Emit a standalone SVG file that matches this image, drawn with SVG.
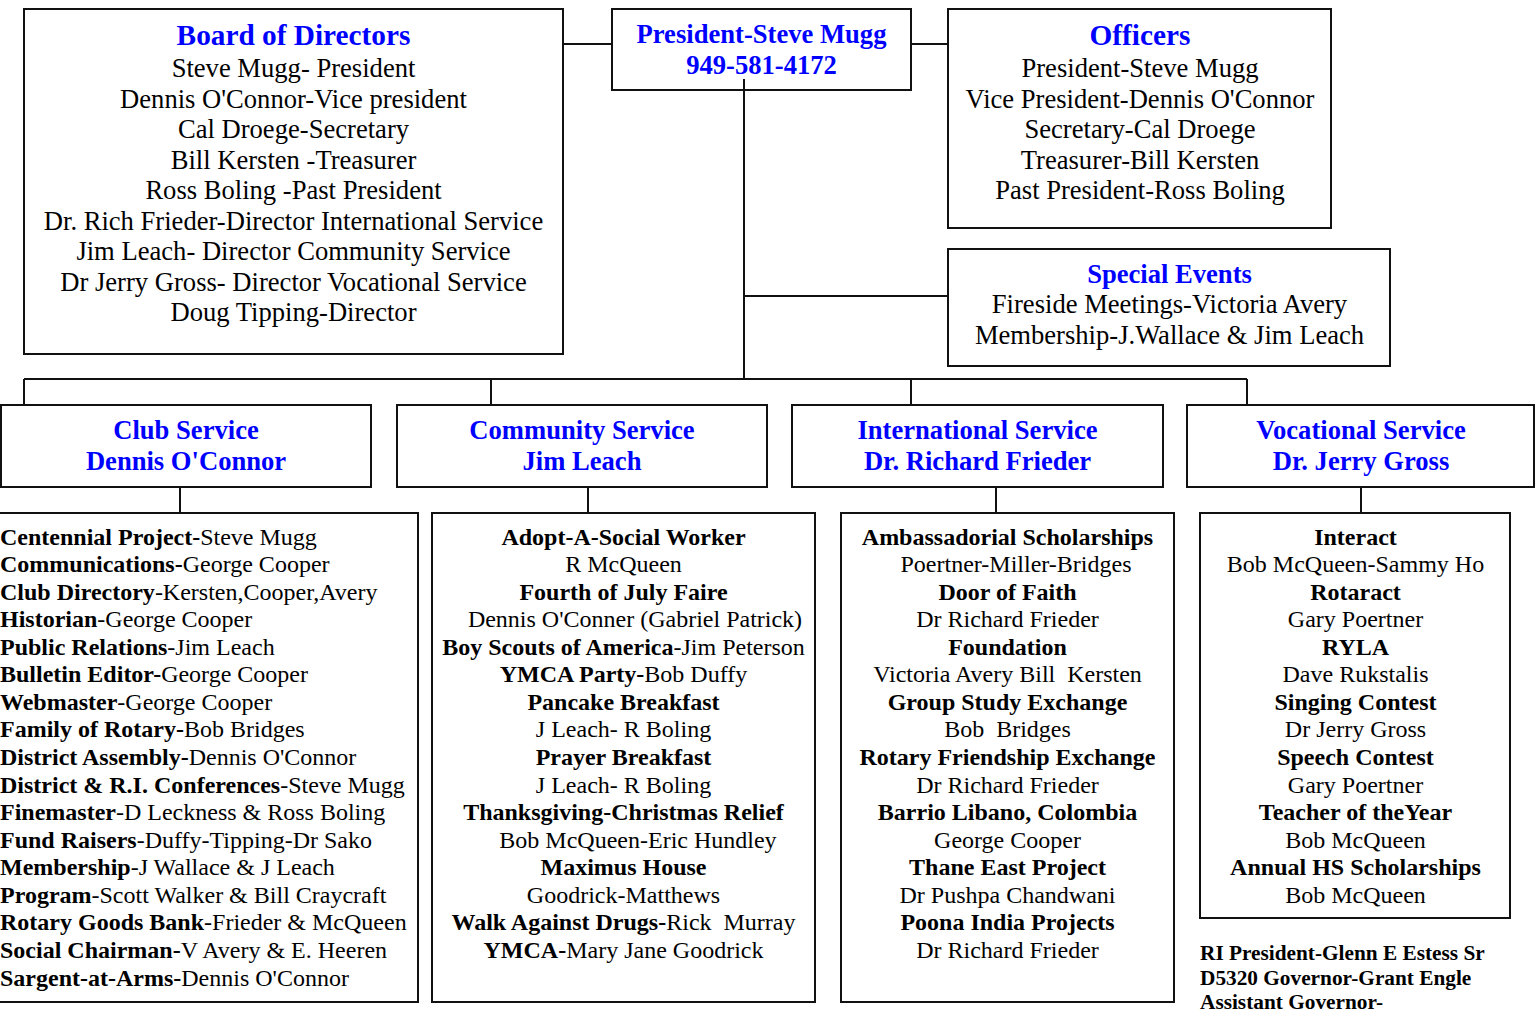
<svg xmlns="http://www.w3.org/2000/svg" width="1535" height="1015" viewBox="0 0 1535 1015">
<style>
rect.b{fill:#fff;stroke:#111;stroke-width:2}
.c line{stroke:#111;stroke-width:2}
text{font-family:"Liberation Serif","Times New Roman",serif;fill:#000;white-space:pre}
.h{font-weight:bold;fill:#0000ff;font-size:26.6px;text-anchor:middle}
.hl{font-weight:bold;fill:#0000ff;font-size:29.3px;text-anchor:middle}
.t{font-size:26.6px;text-anchor:middle}
.l{font-size:24px}
.m{font-size:24px;text-anchor:middle}
.f{font-size:21.3px;font-weight:bold}
.bd{font-weight:bold}
</style>
<rect width="1535" height="1015" fill="#fff"/>
<g id="connectors" class="c">
<line x1="563" y1="44" x2="612" y2="44"/>
<line x1="911" y1="44" x2="948" y2="44"/>
<line x1="744" y1="79" x2="744" y2="379"/>
<line x1="744" y1="296" x2="948" y2="296"/>
<line x1="24" y1="379" x2="1247" y2="379"/>
<line x1="24" y1="379" x2="24" y2="405"/>
<line x1="491" y1="379" x2="491" y2="405"/>
<line x1="911" y1="379" x2="911" y2="405"/>
<line x1="1247" y1="379" x2="1247" y2="405"/>
<line x1="180" y1="487" x2="180" y2="513"/>
<line x1="588" y1="487" x2="588" y2="513"/>
<line x1="996" y1="487" x2="996" y2="513"/>
<line x1="1361" y1="487" x2="1361" y2="513"/>
</g>
<g id="board">
<rect class="b" x="24" y="9" width="539" height="345"/>
<text class="hl" x="293.5" y="45">Board of Directors</text>
<text class="t" x="293.5" y="77">Steve Mugg- President</text>
<text class="t" x="293.5" y="107.5">Dennis O'Connor-Vice president</text>
<text class="t" x="293.5" y="138">Cal Droege-Secretary</text>
<text class="t" x="293.5" y="168.5">Bill Kersten -Treasurer</text>
<text class="t" x="293.5" y="199">Ross Boling -Past President</text>
<text class="t" x="293.5" y="229.5">Dr. Rich Frieder-Director International Service</text>
<text class="t" x="293.5" y="260">Jim Leach- Director Community Service</text>
<text class="t" x="293.5" y="290.5">Dr Jerry Gross- Director Vocational Service</text>
<text class="t" x="293.5" y="321">Doug Tipping-Director</text>
</g>
<g id="president">
<rect class="b" x="612" y="9" width="299" height="81"/>
<text class="h" x="761.5" y="43">President-Steve Mugg</text>
<text class="h" x="761.5" y="74">949-581-4172</text>
</g>
<line x1="744" y1="79" x2="744" y2="91" stroke="#111" stroke-width="2"/>
<g id="officers">
<rect class="b" x="948" y="9" width="383" height="219"/>
<text class="hl" x="1140" y="45">Officers</text>
<text class="t" x="1140" y="77">President-Steve Mugg</text>
<text class="t" x="1140" y="107.5">Vice President-Dennis O'Connor</text>
<text class="t" x="1140" y="138">Secretary-Cal Droege</text>
<text class="t" x="1140" y="168.5">Treasurer-Bill Kersten</text>
<text class="t" x="1140" y="199">Past President-Ross Boling</text>
</g>
<g id="special-events">
<rect class="b" x="948" y="249" width="442" height="117"/>
<text class="h" x="1169.5" y="283">Special Events</text>
<text class="t" x="1169.5" y="313">Fireside Meetings-Victoria Avery</text>
<text class="t" x="1169.5" y="343.5">Membership-J.Wallace &amp; Jim Leach</text>
</g>
<g id="club-service">
<rect class="b" x="1" y="405" width="370" height="82"/>
<text class="h" x="186" y="439">Club Service</text>
<text class="h" x="186" y="469.5">Dennis O'Connor</text>
</g>
<g id="community-service">
<rect class="b" x="397" y="405" width="370" height="82"/>
<text class="h" x="582" y="439">Community Service</text>
<text class="h" x="582" y="469.5">Jim Leach</text>
</g>
<g id="international-service">
<rect class="b" x="792" y="405" width="371" height="82"/>
<text class="h" x="977.5" y="439">International Service</text>
<text class="h" x="977.5" y="469.5">Dr. Richard Frieder</text>
</g>
<g id="vocational-service">
<rect class="b" x="1187" y="405" width="347" height="82"/>
<text class="h" x="1361" y="439">Vocational Service</text>
<text class="h" x="1361" y="469.5">Dr. Jerry Gross</text>
</g>
<g id="club-list">
<rect class="b" x="-3" y="513" width="421" height="489"/>
<text class="l" x="0" y="544.5"><tspan class="bd">Centennial Project-</tspan>Steve Mugg</text>
<text class="l" x="0" y="572.1"><tspan class="bd">Communications-</tspan>George Cooper</text>
<text class="l" x="0" y="599.6"><tspan class="bd">Club Directory</tspan>-Kersten,Cooper,Avery</text>
<text class="l" x="0" y="627.2"><tspan class="bd">Historian</tspan>-George Cooper</text>
<text class="l" x="0" y="654.7"><tspan class="bd">Public Relations</tspan>-Jim Leach</text>
<text class="l" x="0" y="682.3"><tspan class="bd">Bulletin Editor-</tspan>George Cooper</text>
<text class="l" x="0" y="709.9"><tspan class="bd">Webmaster</tspan>-George Cooper</text>
<text class="l" x="0" y="737.4"><tspan class="bd">Family of Rotary-</tspan>Bob Bridges</text>
<text class="l" x="0" y="765"><tspan class="bd">District Assembly-</tspan>Dennis O'Connor</text>
<text class="l" x="0" y="792.5"><tspan class="bd">District &amp; R.I. Conferences</tspan>-Steve Mugg</text>
<text class="l" x="0" y="820.1"><tspan class="bd">Finemaster</tspan>-D Leckness &amp; Ross Boling</text>
<text class="l" x="0" y="847.7"><tspan class="bd">Fund Raisers</tspan>-Duffy-Tipping-Dr Sako</text>
<text class="l" x="0" y="875.2"><tspan class="bd">Membership</tspan>-J Wallace &amp; J Leach</text>
<text class="l" x="0" y="902.8"><tspan class="bd">Program</tspan>-Scott Walker &amp; Bill Craycraft</text>
<text class="l" x="0" y="930.3"><tspan class="bd">Rotary Goods Bank</tspan>-Frieder &amp; McQueen</text>
<text class="l" x="0" y="957.9"><tspan class="bd">Social Chairman-</tspan>V Avery &amp; E. Heeren</text>
<text class="l" x="0" y="985.5"><tspan class="bd">Sargent-at-Arms-</tspan>Dennis O'Connor</text>
</g>
<g id="community-list">
<rect class="b" x="432" y="513" width="383" height="489"/>
<text class="m bd" x="623.5" y="544.5">Adopt-A-Social Worker</text>
<text class="m" x="623.5" y="572.1">R McQueen</text>
<text class="m bd" x="623.5" y="599.6">Fourth of July Faire</text>
<text class="m" x="635" y="627.2">Dennis O'Conner (Gabriel Patrick)</text>
<text class="m" x="623.5" y="654.7"><tspan class="bd">Boy Scouts of America</tspan>-Jim Peterson</text>
<text class="m" x="623.5" y="682.3"><tspan class="bd">YMCA Party-</tspan>Bob Duffy</text>
<text class="m bd" x="623.5" y="709.9">Pancake Breakfast</text>
<text class="m" x="623.5" y="737.4">J Leach- R Boling</text>
<text class="m bd" x="623.5" y="765">Prayer Breakfast</text>
<text class="m" x="623.5" y="792.5">J Leach- R Boling</text>
<text class="m bd" x="623.5" y="820.1">Thanksgiving-Christmas Relief</text>
<text class="m" x="638" y="847.7">Bob McQueen-Eric Hundley</text>
<text class="m bd" x="623.5" y="875.2">Maximus House</text>
<text class="m" x="623.5" y="902.8">Goodrick-Matthews</text>
<text class="m" x="623.5" y="930.3"><tspan class="bd">Walk Against Drugs-</tspan>Rick  Murray</text>
<text class="m" x="623.5" y="957.9"><tspan class="bd">YMCA-</tspan>Mary Jane Goodrick</text>
</g>
<g id="international-list">
<rect class="b" x="841" y="513" width="333" height="489"/>
<text class="m bd" x="1007.5" y="544.5">Ambassadorial Scholarships</text>
<text class="m" x="1016" y="572.1">Poertner-Miller-Bridges</text>
<text class="m bd" x="1007.5" y="599.6">Door of Faith</text>
<text class="m" x="1007.5" y="627.2">Dr Richard Frieder</text>
<text class="m bd" x="1007.5" y="654.7">Foundation</text>
<text class="m" x="1007.5" y="682.3">Victoria Avery Bill  Kersten</text>
<text class="m bd" x="1007.5" y="709.9">Group Study Exchange</text>
<text class="m" x="1007.5" y="737.4">Bob  Bridges</text>
<text class="m bd" x="1007.5" y="765">Rotary Friendship Exchange</text>
<text class="m" x="1007.5" y="792.5">Dr Richard Frieder</text>
<text class="m bd" x="1007.5" y="820.1">Barrio Libano, Colombia</text>
<text class="m" x="1007.5" y="847.7">George Cooper</text>
<text class="m bd" x="1007.5" y="875.2">Thane East Project</text>
<text class="m" x="1007.5" y="902.8">Dr Pushpa Chandwani</text>
<text class="m bd" x="1007.5" y="930.3">Poona India Projects</text>
<text class="m" x="1007.5" y="957.9">Dr Richard Frieder</text>
</g>
<g id="vocational-list">
<rect class="b" x="1200" y="513" width="310" height="405"/>
<text class="m bd" x="1355.5" y="544.5">Interact</text>
<text class="m" x="1355.5" y="572.1">Bob McQueen-Sammy Ho</text>
<text class="m bd" x="1355.5" y="599.6">Rotaract</text>
<text class="m" x="1355.5" y="627.2">Gary Poertner</text>
<text class="m bd" x="1355.5" y="654.7">RYLA</text>
<text class="m" x="1355.5" y="682.3">Dave Rukstalis</text>
<text class="m bd" x="1355.5" y="709.9">Singing Contest</text>
<text class="m" x="1355.5" y="737.4">Dr Jerry Gross</text>
<text class="m bd" x="1355.5" y="765">Speech Contest</text>
<text class="m" x="1355.5" y="792.5">Gary Poertner</text>
<text class="m bd" x="1355.5" y="820.1">Teacher of theYear</text>
<text class="m" x="1355.5" y="847.7">Bob McQueen</text>
<text class="m bd" x="1355.5" y="875.2">Annual HS Scholarships</text>
<text class="m" x="1355.5" y="902.8">Bob McQueen</text>
</g>
<g id="footer">
<text class="f" x="1200" y="960">RI President-Glenn E Estess Sr</text>
<text class="f" x="1200" y="984.5">D5320 Governor-Grant Engle</text>
<text class="f" x="1200" y="1009">Assistant Governor-</text>
</g>
</svg>
